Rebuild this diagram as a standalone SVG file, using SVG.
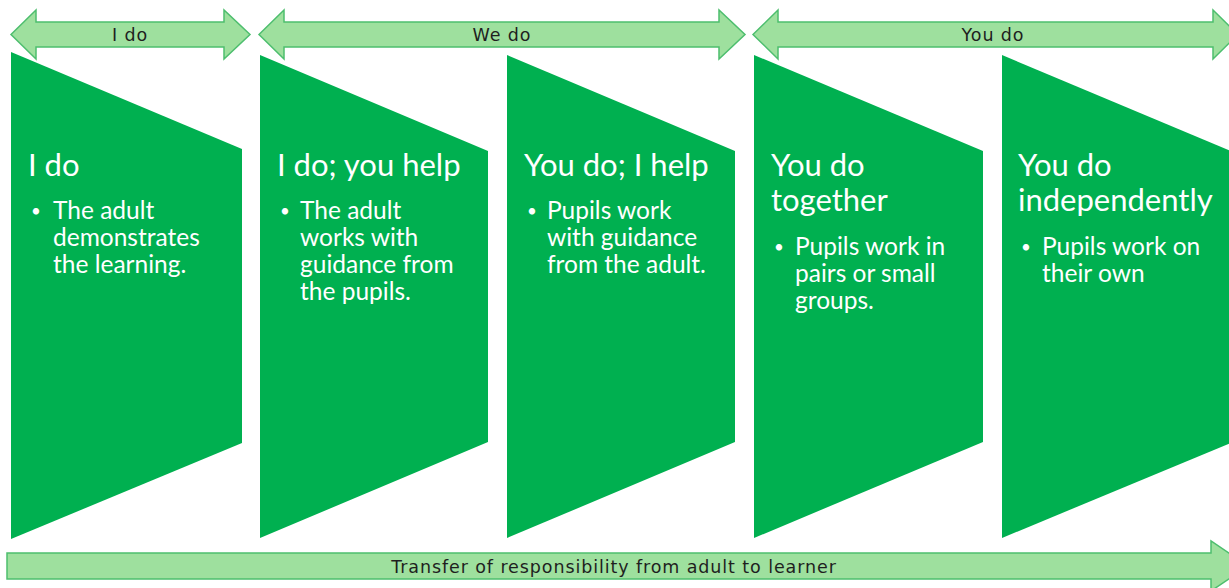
<svg xmlns="http://www.w3.org/2000/svg" width="1229" height="588" viewBox="0 0 1229 588">
  <style>
    .band { fill: #9EE09E; stroke: #4DBE6E; stroke-width: 1.5; }
    .band-label { font-family: "DejaVu Sans", Verdana, sans-serif; font-size: 17.5px; letter-spacing: 0.9px; fill: #1f1f1f; text-anchor: middle; }
    .stage { fill: #00B050; }
    .title { font-family: Lato, "Open Sans", sans-serif; font-size: 31px; fill: #ffffff; }
    .body { font-family: Lato, "Open Sans", sans-serif; font-size: 24.5px; fill: #ffffff; }
    .bullet { font-family: Lato, "Open Sans", sans-serif; font-size: 17px; fill: #ffffff; }
  </style>

  <!-- phase bands along the top and the responsibility arrow along the bottom -->
  <g id="connectors">
    <g id="band-i-do">
      <path class="band" d="M11,34.5 L36,10 L36,22 L224,22 L224,10 L250,34.5 L224,59 L224,47 L36,47 L36,59 Z"/>
      <text class="band-label" x="130" y="40.5">I do</text>
    </g>
    <g id="band-we-do">
      <path class="band" d="M259,34.5 L284,10 L284,22 L719,22 L719,10 L745,34.5 L719,59 L719,47 L284,47 L284,59 Z"/>
      <text class="band-label" x="502" y="40.5">We do</text>
    </g>
    <g id="band-you-do">
      <path class="band" d="M753,34.5 L778,10 L778,22 L1213,22 L1213,10 L1238,34.5 L1213,59 L1213,47 L778,47 L778,59 Z"/>
      <text class="band-label" x="993" y="40.5">You do</text>
    </g>
    <g id="transfer-arrow">
      <path class="band" d="M7,553 L1211,553 L1211,541 L1248,566 L1211,591 L1211,579 L7,579 Z"/>
      <text class="band-label" x="614" y="572.5">Transfer of responsibility from adult to learner</text>
    </g>
  </g>

  <!-- stage 1 -->
  <g id="stage-i-do">
    <path class="stage" d="M11,52 L242,149 L242,443 L11,539 Z"/>
    <text class="title" x="28" y="176">I do</text>
    <text class="bullet" x="31" y="217">•</text>
    <text class="body" x="53" y="219">The adult</text>
    <text class="body" x="53" y="246">demonstrates</text>
    <text class="body" x="53" y="273">the learning.</text>
  </g>

  <!-- stage 2 -->
  <g id="stage-i-do-you-help">
    <path class="stage" d="M260,55 L488,151 L488,442 L260,538 Z"/>
    <text class="title" x="277" y="176">I do; you help</text>
    <text class="bullet" x="280" y="217">•</text>
    <text class="body" x="300" y="219">The adult</text>
    <text class="body" x="300" y="246">works with</text>
    <text class="body" x="300" y="273">guidance from</text>
    <text class="body" x="300" y="300">the pupils.</text>
  </g>

  <!-- stage 3 -->
  <g id="stage-you-do-i-help">
    <path class="stage" d="M507,55 L735,151 L735,442 L507,538 Z"/>
    <text class="title" x="524" y="176">You do; I help</text>
    <text class="bullet" x="527" y="217">•</text>
    <text class="body" x="547" y="219">Pupils work</text>
    <text class="body" x="547" y="246">with guidance</text>
    <text class="body" x="547" y="273">from the adult.</text>
  </g>

  <!-- stage 4 -->
  <g id="stage-you-do-together">
    <path class="stage" d="M754,55 L983,151 L983,442 L754,538 Z"/>
    <text class="title" x="771" y="176">You do</text>
    <text class="title" x="771" y="211">together</text>
    <text class="bullet" x="774" y="253">•</text>
    <text class="body" x="795" y="255">Pupils work in</text>
    <text class="body" x="795" y="282">pairs or small</text>
    <text class="body" x="795" y="309">groups.</text>
  </g>

  <!-- stage 5 -->
  <g id="stage-you-do-independently">
    <path class="stage" d="M1002,55 L1233,152 L1233,442 L1002,538 Z"/>
    <text class="title" x="1018" y="176">You do</text>
    <text class="title" x="1018" y="211">independently</text>
    <text class="bullet" x="1021" y="253">•</text>
    <text class="body" x="1042" y="255">Pupils work on</text>
    <text class="body" x="1042" y="282">their own</text>
  </g>
</svg>
